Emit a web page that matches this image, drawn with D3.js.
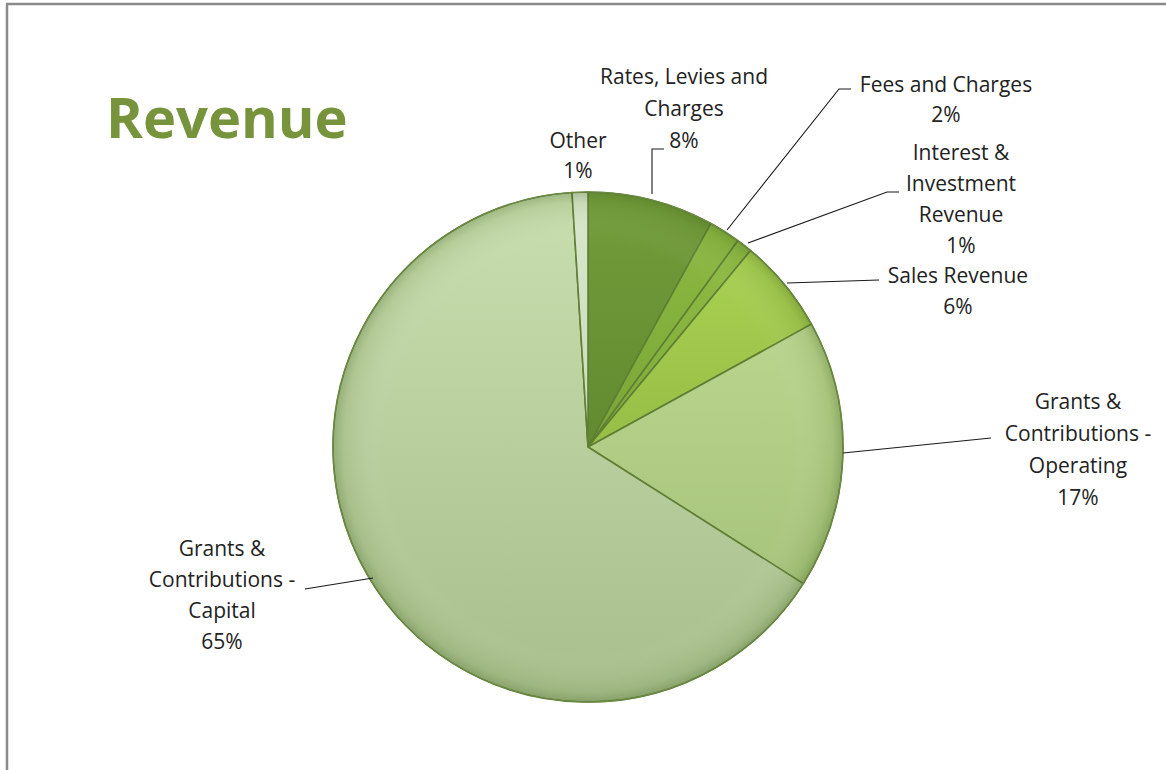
<!DOCTYPE html>
<html><head><meta charset="utf-8">
<script src="https://cdn.jsdelivr.net/npm/d3@7"></script>
<style>body{margin:0;background:#fff;}svg{display:block;font-family:"Open Sans",Lato,sans-serif;}</style>
</head><body>
<svg id="c" width="1166" height="770"></svg>
<script>
const categories = ["Rates, Levies and Charges","Fees and Charges","Interest & Investment Revenue","Sales Revenue","Grants & Contributions - Operating","Grants & Contributions - Capital","Other"];
const values = [8,2,1,6,17,65,1];
const labelLines = [["Rates, Levies and","Charges","8%"],["Fees and Charges","2%"],["Interest &","Investment","Revenue","1%"],["Sales Revenue","6%"],["Grants &","Contributions -","Operating","17%"],["Grants &","Contributions -","Capital","65%"],["Other","1%"]];
const colors = ["#729d3a","#8cb942","#8fbc44","#a9d152","#b9d58e","#c8deae","#dae8cd"];
const colorsDark = ["#628a30","#7aa536","#7da838","#97be45","#a7c47c","#a8bf8c","#c9dabb"];
// label layout (center x, first line y), leader lines
const labelPos = [[684,76],[946,84],[961,152],[958,275],[1078,401],[222,548],[578,140]];
const lineHs = [32,30,31,31,32,31,30];
const leaders = [
  [[652,194],[652,149],[664,149]],
  [[727,230],[839,89],[851,89]],
  [[748,243],[887,192],[899,192]],
  [[787,283],[879,280]],
  [[843,453],[991,438]],
  [[373,578],[305,589]],
  null
];

const svg = d3.select("#c");
const cx = 588, cy = 447, R = 255;
const defs = svg.append("defs");

// border
svg.append("line").attr("x1",7).attr("y1",4).attr("x2",7).attr("y2",770).attr("stroke","#8a8a8a").attr("stroke-width",2.5);
svg.append("line").attr("x1",6).attr("y1",4).attr("x2",1166).attr("y2",4).attr("stroke","#8a8a8a").attr("stroke-width",2.5);

svg.append("text").attr("x",106).attr("y",138).attr("font-size",56).attr("font-weight","bold")
  .attr("fill","#77933c").text("Revenue");

const pie = d3.pie().sort(null).value(d=>d);
const arcs = pie(values);
const arc = d3.arc().innerRadius(0).outerRadius(R);

colors.forEach((c,i)=>{
  const g = defs.append("linearGradient").attr("id","g"+i).attr("x1","0").attr("y1","0").attr("x2","0").attr("y2","1");
  g.append("stop").attr("offset","0").attr("stop-color",c);
  g.append("stop").attr("offset","1").attr("stop-color",colorsDark[i]);
});
const rg = defs.append("radialGradient").attr("id","shade").attr("cx","0.5").attr("cy","0.5").attr("r","0.5");
rg.append("stop").attr("offset","0.8").attr("stop-color","#fff").attr("stop-opacity",0);
rg.append("stop").attr("offset","0.96").attr("stop-color","#4a6a20").attr("stop-opacity",0.12);
rg.append("stop").attr("offset","1").attr("stop-color","#3d5a18").attr("stop-opacity",0.3);

const pg = svg.append("g").attr("transform",`translate(${cx},${cy})`);
pg.selectAll("path.s").data(arcs).join("path").attr("class","s")
  .attr("d",arc).attr("fill",(d,i)=>`url(#g${i})`)
  .attr("stroke","#5f7f35").attr("stroke-width",1.6).attr("stroke-linejoin","round");
pg.append("circle").attr("r",R).attr("fill","url(#shade)").attr("pointer-events","none");
pg.append("circle").attr("r",R).attr("fill","none").attr("stroke","#6b8a45").attr("stroke-width",1.2);

const line = d3.line();
leaders.forEach(l=>{ if(l) svg.append("path").attr("d",line(l)).attr("fill","none").attr("stroke","#1a1a1a").attr("stroke-width",1.1); });

labelLines.forEach((lines,i)=>{
  const t = svg.append("text").attr("text-anchor","middle").attr("font-size",21).attr("fill","#222");
  lines.forEach((s,j)=>{
    t.append("tspan").attr("x",labelPos[i][0]).attr("y",labelPos[i][1]+j*lineHs[i]).attr("dominant-baseline","central").text(s);
  });
});
</script>
</body></html>
